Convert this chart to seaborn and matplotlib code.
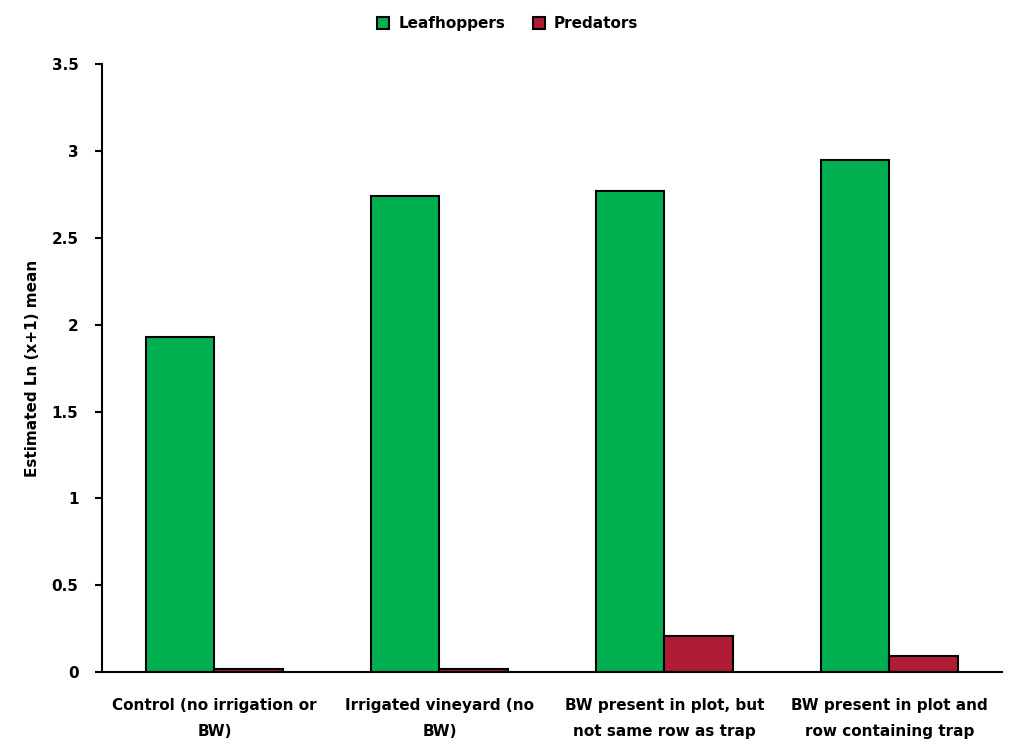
import pandas as pd
import matplotlib.pyplot as plt
import seaborn as sns
import numpy as np

# values
categories = ['Control (no irrigation or\nBW)', 'Irrigated vineyard (no\nBW)',
              'BW present in plot, but\nnot same row as trap',
              'BW present in plot and\nrow containing trap']
leafhoppers = [1.93, 2.74, 2.77, 2.95]
predators = [0.015, 0.015, 0.21, 0.09]
series = ['Leafhoppers', 'Predators']
colors = ['#00B050', '#B01C36']

data = pd.DataFrame({
    'category': categories * 2,
    'group': [series[0]] * 4 + [series[1]] * 4,
    'value': leafhoppers + predators,
})

sns.set_style('white')
plt.rcParams['font.family'] = ['DejaVu Sans']
plt.rcParams['font.weight'] = 'bold'
plt.rcParams['text.color'] = 'black'
plt.rcParams['xtick.color'] = 'black'
plt.rcParams['ytick.color'] = 'black'
plt.rcParams['axes.labelcolor'] = 'black'

fig = plt.figure(figsize=(10.15, 7.56), dpi=100)
ax = fig.add_axes([0.1005, 0.111, 0.8865, 0.804])

sns.barplot(data=data, x='category', y='value', hue='group', palette=colors, saturation=1,
            width=0.61, edgecolor='black', linewidth=1.5, ax=ax, legend=False)

ax.set_ylim(0, 3.5)
ax.set_xlim(-0.5, 3.5)
ax.set_yticks(np.arange(0, 3.51, 0.5))
ax.set_yticklabels(['0', '0.5', '1', '1.5', '2', '2.5', '3', '3.5'], fontsize=11, fontweight='bold')
ax.set_xticks(range(4))
ax.set_xticklabels(categories, fontsize=11, fontweight='bold', linespacing=1.9)
ax.set_xticks(np.arange(-0.5, 3.6, 1), minor=True)
ax.tick_params(axis='x', which='major', length=0, pad=19)
ax.tick_params(axis='x', which='minor', length=6, width=1.5, direction='out', color='black')
ax.tick_params(axis='y', length=5, width=1.5, direction='out', color='black', pad=12, left=True)
ax.set_xlabel('')
ax.set_ylabel('Estimated Ln (x+1) mean', fontsize=11, fontweight='bold', labelpad=8)

sns.despine(ax=ax)
for s in ['left', 'bottom']:
    ax.spines[s].set_color('black')
    ax.spines[s].set_linewidth(1.5)

handles = [plt.Rectangle((0, 0), 1, 1, facecolor=c, edgecolor='black', linewidth=1.5) for c in colors]
fig.legend(handles, series, loc='upper center', bbox_to_anchor=(0.5, 0.997), ncol=2,
           frameon=False, prop={'size': 11, 'weight': 'bold'}, handlelength=0.8, handleheight=0.8,
           columnspacing=1.8, handletextpad=0.6)

fig.savefig('out.png', dpi=100)
